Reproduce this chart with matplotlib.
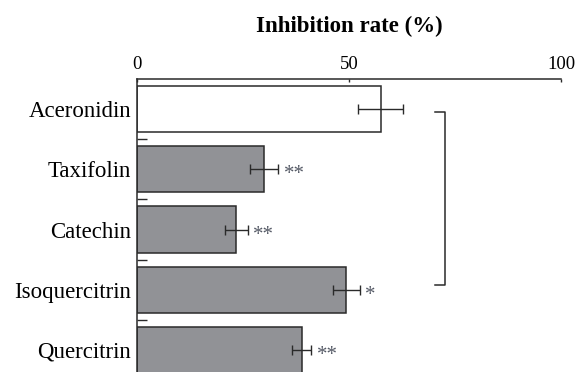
import numpy as np
import matplotlib
matplotlib.use("Agg")
from matplotlib import pyplot as plt

compounds = ["Aceronidin", "Taxifolin", "Catechin", "Isoquercitrin", "Quercitrin"]
rates = [57.5, 30.0, 23.4, 49.4, 38.8]
errors = [5.3, 3.3, 2.7, 3.1, 2.3]
marks = ["", "**", "**", "*", "**"]
fills = ["white", "#919296", "#919296", "#919296", "#919296"]
xticks = [0, 50, 100]

plt.rcParams['font.family'] = ['Liberation Serif', 'DejaVu Serif']

fig = plt.figure(figsize=(5.78, 3.72), dpi=100)
# axes runs below the bottom edge of the picture (last bar is cut off)
ax = fig.add_axes([137/578, 0.0, 424/578, (372-79)/372])

ypos = np.arange(len(compounds))
ink = "#2a2a2a"
ax.barh(ypos, rates, height=0.765, color=fills, edgecolor=ink, linewidth=1.1)
ax.errorbar(rates, ypos, xerr=errors, fmt="none", ecolor=ink,
            elinewidth=1.0, capsize=3.3, capthick=1.0)

for y, r, e, m in zip(ypos, rates, errors, marks):
    if m:
        ax.annotate(m, (r + e, y), xytext=(4, -4), textcoords="offset points",
                    ha="left", va="center", fontsize=15, color="#555a66")

# bracket on the right
ax.plot([70.3, 72.7, 72.7, 70.3], [0.05, 0.05, 2.92, 2.92],
        color=ink, lw=1.1, clip_on=False)

ax.set_xlim(0, 100)
ax.set_ylim(4.5 - 8/60.2, -0.5)

ax.xaxis.tick_top()
ax.set_xticks(xticks)
ax.tick_params(axis="x", direction="in", length=2.5, width=1.0, pad=4.5,
               labelsize=13.5, color=ink)
ax.set_yticks(ypos)
ax.set_yticklabels(compounds)
ax.tick_params(axis="y", which="major", length=0, pad=4.3, labelsize=16.5)
ax.set_yticks(ypos[:-1] + 0.5, minor=True)
ax.tick_params(axis="y", which="minor", direction="in", length=7.2,
               width=1.0, color=ink)

for s in ["right", "bottom"]:
    ax.spines[s].set_visible(False)
for s in ["top", "left"]:
    ax.spines[s].set_linewidth(1.1)
    ax.spines[s].set_color(ink)

fig.text(349/578, 1 - 26/372, "Inhibition rate (%)", ha="center", va="center",
         fontsize=16.5, fontweight="bold")

fig.savefig("out.png", dpi=100)
